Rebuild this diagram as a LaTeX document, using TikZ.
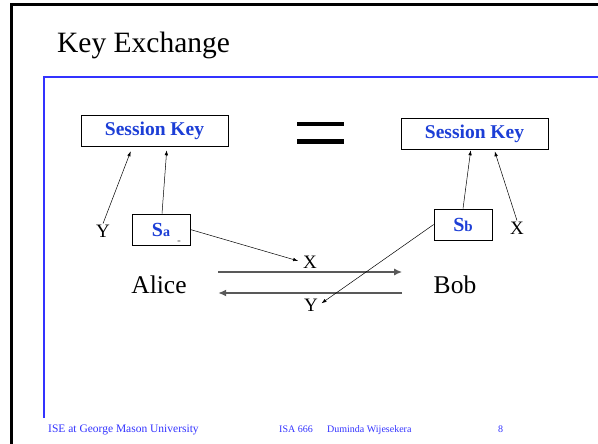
\documentclass[tikz,border=0pt]{standalone}
\usepackage{fontspec}
\setmainfont{Liberation Serif}
\usetikzlibrary{arrows.meta,positioning}
\definecolor{slideblue}{RGB}{51,51,255}
\definecolor{keyblue}{RGB}{28,62,214}

\begin{document}
\begin{tikzpicture} [x=1pt, y=-1pt,
      keybox/.style={draw, line width=0.6pt, minimum width=147pt, minimum height=31pt,
          text=keyblue, font=\fontsize{19.5}{20}\selectfont\bfseries},
      sbox/.style={draw, line width=0.6pt, minimum width=58pt, minimum height=31pt,
          text=keyblue, font=\bfseries},
      lbl/.style={font=\fontsize{19}{19}\selectfont, inner sep=1pt},
      party/.style={font=\fontsize{25.5}{26}\selectfont},
      tip/.style={-{Latex[length=5pt,width=3.5pt]}, line width=0.5pt},
      pipe/.style={-{Latex[length=8pt,width=7pt]}, line width=2.5pt, draw=gray!70!black},
      foot/.style={text=slideblue, anchor=base west, inner sep=0pt}]

    \useasboundingbox (0,0) rectangle (598,444);
    % slide frame
    \draw[line width=3pt] (11.5,444) -- (11.5,4.5) -- (598,4.5);
    \draw[slideblue, line width=1.5pt] (44,418) -- (44,77) -- (598,77);

    \node[anchor=base west, inner sep=0pt, font=\fontsize{29.5}{30}\selectfont] (title) at (57,53) {Key Exchange};

    % the two keys
    \node[keybox] (keyA) at (154.5,130.5) {Session Key};
    \node[keybox] (keyB) at (474.5,133.5) {Session Key};
    \fill (297,122) rectangle (344,126);
    \fill (297,139) rectangle (344,144);

    \node[sbox] (sa) at (161,229.5) {{\fontsize{20}{20}\selectfont S}{\fontsize{14}{14}\selectfont a}};
    \node[inner sep=0pt, font=\fontsize{6}{6}\selectfont] (saeq) at (179,242) {=};
    \node[sbox] (sb) at (463,224.5) {{\fontsize{20}{20}\selectfont S}{\fontsize{15}{15}\selectfont b}};
    \node[lbl] (yA) at (103,231) {Y};
    \node[lbl] (xB) at (517,228) {X};

    \coordinate (kaY) at ([xshift=50pt,yshift=-5pt]keyA.south west);
    \coordinate (kaS) at ([xshift=86pt,yshift=-4pt]keyA.south west);
    \coordinate (kbS) at ([xshift=70pt,yshift=-1pt]keyB.south west);
    \coordinate (kbX) at ([xshift=94pt,yshift=-2pt]keyB.south west);
    \draw[tip] (yA.north) -- (kaY);
    \draw[tip] ([xshift=1pt]sa.north) -- (kaS);
    \draw[tip] (sb.north) -- (kbS);
    \draw[tip] (xB.north) -- (kbX);

    % Alice and Bob exchange X and Y
    \node[party] (alice) at (159,285) {Alice};
    \node[party] (bob) at (455,285) {Bob};
    \node[lbl] (xMid) at (310,262) {X};
    \node[lbl] (yMid) at (311,305) {Y};
    \draw[pipe] ([xshift=28pt,yshift=13pt]alice.east) -- ([xshift=-28pt,yshift=13pt]bob.west);
    \draw[pipe] ([xshift=-28pt,yshift=-8pt]bob.west) -- ([xshift=28pt,yshift=-8pt]alice.east);
    \draw[tip, shorten >=4pt] (sa.east) -- (xMid.west);
    \draw[tip, shorten >=3pt] (sb.west) -- (yMid.east);

    % footer
    \node[foot, font=\fontsize{11.5}{12}\selectfont] (org) at (48,432) {ISE at George Mason University};
    \node[foot, font=\fontsize{10}{10}\selectfont] (course) at (279,432) {ISA 666};
    \node[foot, font=\fontsize{10}{10}\selectfont] (author) at (327,432) {Duminda Wijesekera};
    \node[foot, font=\fontsize{10}{10}\selectfont] (page) at (498,432) {8};
\end{tikzpicture}
\end{document}
